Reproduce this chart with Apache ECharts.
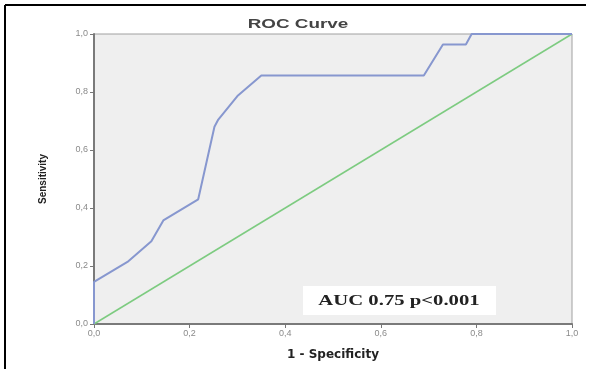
<!DOCTYPE html>
<html>
<head>
<meta charset="utf-8">
<title>ROC Curve</title>
<script src="https://cdn.jsdelivr.net/npm/echarts@6/dist/echarts.min.js"></script>
<style>
  html, body { margin: 0; padding: 0; background: #fff; }
  #chart { width: 590px; height: 369px; }
</style>
</head>
<body>
<div id="chart"></div>
<script>
// ----- Data -----
const fpr = [0, 0, 0.07, 0.12, 0.145, 0.218, 0.252, 0.26, 0.30, 0.35, 0.69, 0.73, 0.778, 0.79, 1.0];
const tpr = [0, 0.145, 0.214, 0.285, 0.357, 0.43, 0.68, 0.705, 0.786, 0.857, 0.857, 0.964, 0.964, 1.0, 1.0];
const refX = [0, 1];
const refY = [0, 1];
const titleText = 'ROC Curve';
const aucText = 'AUC 0.75 p<0.001';

const chart = echarts.init(document.getElementById('chart'));

// comma decimal like the SPSS output
const fmt = v => v.toFixed(1).replace('.', ',');

const axisCommon = {
  type: 'value',
  min: 0,
  max: 1,
  interval: 0.2,
  nameLocation: 'middle',
  nameTextStyle: { color: '#222', fontWeight: 'bold', fontFamily: 'DejaVu Sans' },
  axisLine: { show: true, lineStyle: { color: '#7a7a7a', width: 2 } },
  axisTick: { show: true, inside: false, length: 4, lineStyle: { color: '#777' } },
  axisLabel: { color: '#8a8a8a', fontSize: 9, formatter: fmt },
  splitLine: { show: false }
};

chart.setOption({
  backgroundColor: '#fff',
  animation: false,
  grid: {
    left: 94, right: 18, top: 34, bottom: 45,
    show: true,
    backgroundColor: '#efefef',
    borderColor: '#a0a0a0',
    borderWidth: 1
  },
  xAxis: Object.assign({}, axisCommon, {
    name: '1 - Specificity',
    nameGap: 25,
    nameTextStyle: Object.assign({}, axisCommon.nameTextStyle, { fontSize: 12 }),
    axisLabel: Object.assign({}, axisCommon.axisLabel, { margin: 5 })
  }),
  yAxis: Object.assign({}, axisCommon, {
    name: 'Sensitivity',
    nameGap: 46,
    nameTextStyle: Object.assign({}, axisCommon.nameTextStyle, { fontSize: 10, fontFamily: 'Liberation Sans Narrow, Liberation Sans' }),
    axisLabel: Object.assign({}, axisCommon.axisLabel, { margin: 6 })
  }),
  series: [
    {
      name: 'Reference',
      type: 'line',
      showSymbol: false,
      lineStyle: { color: '#7dcb80', width: 1.5 },
      data: refX.map((x, i) => [x, refY[i]])
    },
    {
      name: 'ROC',
      type: 'line',
      showSymbol: false,
      lineStyle: { color: '#8797cf', width: 2 },
      data: fpr.map((x, i) => [x, tpr[i]])
    }
  ],
  graphic: [
    // frame lines of the cropped figure
    { type: 'line', shape: { x1: 5, y1: 5, x2: 586, y2: 5 }, style: { stroke: '#000', lineWidth: 2 } },
    { type: 'line', shape: { x1: 5, y1: 5, x2: 5, y2: 369 }, style: { stroke: '#000', lineWidth: 2 } },
    // title, stretched a bit wider like the source image
    {
      type: 'text',
      x: 298, y: 24,
      scaleX: 1.45,
      style: {
        text: titleText,
        fill: '#444',
        font: 'bold 13px "Liberation Sans", Arial, sans-serif',
        textAlign: 'center',
        textVerticalAlign: 'middle'
      }
    },
    // AUC annotation box
    {
      type: 'group',
      left: 303,
      top: 286,
      children: [
        { type: 'rect', shape: { x: 0, y: 0, width: 193, height: 29 }, style: { fill: '#fff' } },
        {
          type: 'text',
          x: 96, y: 15,
          scaleX: 1.38,
          style: {
            text: aucText,
            fill: '#222',
            font: 'bold 15px "Liberation Serif", "Times New Roman", serif',
            textAlign: 'center',
            textVerticalAlign: 'middle'
          }
        }
      ]
    }
  ]
});

window.addEventListener('resize', () => chart.resize());
</script>
</body>
</html>
